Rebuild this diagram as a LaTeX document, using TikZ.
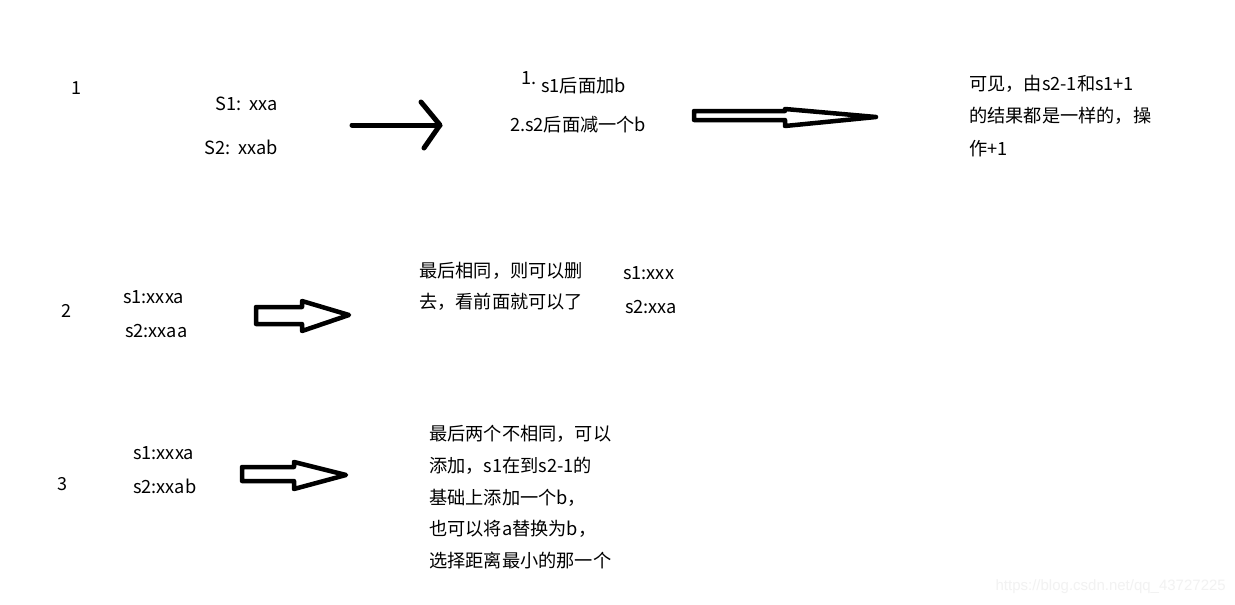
\documentclass[tikz,border=0pt]{standalone}
\usepackage{fontspec}
\setmainfont{Noto Sans CJK SC}
\newfontfamily\wmfont{Liberation Sans}
\begin{document}
\begin{tikzpicture}[x=1pt,y=-1pt,
  txt/.style={anchor=west,inner sep=0pt,font=\fontsize{18.2}{21}\selectfont},
  num/.style={inner sep=0pt,font=\fontsize{18}{21}\selectfont},
  linearrow/.style={line width=5pt,line cap=round,line join=round},
  hollowarrow/.style={line width=4.5pt,line join=round}]
\useasboundingbox[fill=white] (0,0) rectangle (1235,605);
% row 1
\node[num] (n1) at (76,88) {1};
\node[txt] (s1a) at (215,104) {S1:\ \ xxa};
\node[txt] (s2a) at (204,147) {S2:\ \ xxab};
\draw[linearrow] (352,125) -- (440,125);
\draw[linearrow] (421,102) -- (440,125) -- (424,148);
\node[txt] (r1a) at (521,78) {1.};
\node[txt] (r1b) at (541,86) {s1后面加b};
\node[txt] (r1c) at (510,125) {2.s2后面减一个b};
\draw[hollowarrow] (694,111) -- (785,111) -- (785,109) -- (876,117) -- (785,126) -- (785,120) -- (694,120) -- cycle;
\node[txt] (c1) at (969,84) {可见，由s2-1和s1+1};
\node[txt] (c2) at (969,116) {的结果都是一样的，操};
\node[txt] (c3) at (969,149) {作+1};
% row 2
\node[num] (n2) at (66,311) {2};
\node[txt] (s1b) at (123,297) {s1:xxxa};
\node[txt] (s2b) at (125,331) {s2:xxaa};
\draw[hollowarrow] (256,307) -- (302,307) -- (302,301) -- (349,315) -- (302,331) -- (302,324) -- (256,324) -- cycle;
\node[txt] (d1) at (419,271) {最后相同，则可以删};
\node[txt] (d2) at (419,302) {去，看前面就可以了};
\node[txt] (e1) at (623,273) {s1:xxx};
\node[txt] (e2) at (625,307) {s2:xxa};
% row 3
\node[num] (n3) at (62,484) {3};
\node[txt] (s1c) at (133,453) {s1:xxxa};
\node[txt] (s2c) at (133,486) {s2:xxab};
\draw[hollowarrow] (242,467) -- (294,467) -- (294,462) -- (346,475) -- (294,489) -- (294,481) -- (242,481) -- cycle;
\node[txt] (f1) at (429,434) {最后两个不相同，可以};
\node[txt] (f2) at (429,466) {添加，s1在到s2-1的};
\node[txt] (f3) at (429,498) {基础上添加一个b，};
\node[txt] (f4) at (429,529) {也可以将a替换为b，};
\node[txt] (f5) at (429,561) {选择距离最小的那一个};
\node[anchor=east,inner sep=0pt,text=black!5,font=\wmfont\fontsize{15}{18}\selectfont] (wm) at (1226,587) {https://blog.csdn.net/qq\_43727225};
\end{tikzpicture}
\end{document}
